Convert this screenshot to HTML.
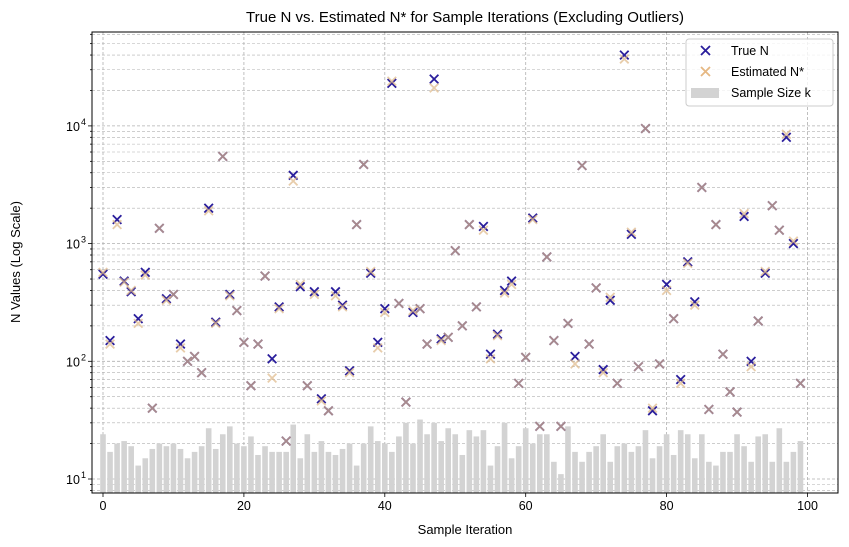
<!DOCTYPE html>
<html><head><meta charset="utf-8"><style>
body{margin:0;background:#fff;}
svg{display:block;font-family:"Liberation Sans","DejaVu Sans",sans-serif;}
</style></head><body>
<svg id="chart" width="849" height="547" viewBox="0 0 849 547" xmlns="http://www.w3.org/2000/svg">
<rect width="849" height="547" fill="#fff"/>
<text x="465" y="22" font-size="15" text-anchor="middle" fill="#000">True N vs. Estimated N* for Sample Iterations (Excluding Outliers)</text>
<g id="grid"></g>
<g id="bars"></g>
<g id="pts"></g>
<rect x="92" y="32" width="746" height="461" fill="none" stroke="#000" stroke-width="1"/>
<g id="axes"></g>
<text x="465" y="534" font-size="13" text-anchor="middle">Sample Iteration</text>
<text transform="translate(20,262) rotate(-90)" font-size="13" text-anchor="middle">N Values (Log Scale)</text>
<g>
<rect x="686" y="39" width="147" height="67" rx="3" fill="#fff" fill-opacity="0.8" stroke="#ccc"/>
<g><path d="M701,46 l9,9 M710,46 l-9,9" stroke="#2a1e9c" stroke-width="1.8"/><text x="731" y="55" font-size="12.5">True N</text></g>
<g><path d="M701,67 l9,9 M710,67 l-9,9" stroke="#e6b883" stroke-width="1.8"/><text x="731" y="76" font-size="12.5">Estimated N*</text></g>
<g><rect x="691" y="88" width="28" height="10" fill="#d3d3d3"/><text x="731" y="97" font-size="12.5">Sample Size k</text></g>
</g>
</svg>
<script>
const trueN=[550,150,1600,480,390,230,570,40,1350,340,370,140,100,110,80,2000,215,5500,370,270,145,62,140,530,105,290,21,3800,430,62,390,48,38,390,300,83,1450,4700,560,145,280,23000,310,45,260,280,140,25000,155,160,870,200,1450,290,1400,115,170,400,480,65,108,1650,28,770,150,28,210,110,4600,140,420,85,330,65,40000,1200,90,9500,38,95,450,230,70,700,320,3000,39,1450,115,55,37,1700,100,220,560,2100,1300,8000,1000,65];
const estN=[570,140,1450,470,400,210,540,40,1350,330,370,130,100,110,80,1900,210,5500,360,270,145,62,140,530,72,280,21,3400,450,62,370,46,38,360,290,80,1450,4700,580,130,260,24000,310,45,270,280,140,21000,150,160,870,200,1450,290,1300,105,165,380,450,65,108,1600,28,770,150,28,210,95,4600,140,420,80,350,65,37000,1250,90,9500,40,95,400,230,65,680,300,3000,39,1450,115,55,37,1800,90,220,580,2100,1300,8500,1050,65];
const sampleK=[24,17,20,21,19,13,15,18,20,19,20,18,15,17,19,27,18,24,28,20,19,23,16,19,17,17,17,29,15,24,17,21,17,16,18,20,13,20,28,21,20,17,23,30,20,32,24,30,21,27,24,16,26,23,26,13,19,30,15,19,27,20,24,24,14,11,28,17,14,17,19,24,14,19,20,17,19,26,15,19,24,16,26,24,15,24,14,13,17,17,24,19,14,23,24,14,27,14,17,21];
const xTicks=[0,20,40,60,80,100];
const yExps=[1,2,3,4];
const NS="http://www.w3.org/2000/svg";
const X0=92,X1=838,Y0=32,Y1=493;
const xs=v=>103+(v/100)*(807.5-103);
const ys=v=>479-(Math.log10(v)-1)*117.7;
function mk(tag,attrs,parent){const e=document.createElementNS(NS,tag);for(const k in attrs)e.setAttribute(k,attrs[k]);parent.appendChild(e);return e;}
const grid=document.getElementById('grid'),bars=document.getElementById('bars'),pts=document.getElementById('pts'),axes=document.getElementById('axes');
for(let e=0;e<=4;e++){for(let m=1;m<=9;m++){const v=m*Math.pow(10,e);const y=ys(v);if(y<Y0||y>Y1)continue;
const l=mk('line',{x1:X0,x2:X1,y1:y,y2:y,stroke:'#b0b0b0','stroke-width':m===1?0.8:0.6,'stroke-dasharray':'3,2'},grid);


const t=mk('line',{x1:X0,x2:X0-(m===1?4:2),y1:y,y2:y,stroke:'#000','stroke-width':0.8},axes);

}}
xTicks.forEach(v=>{const x=xs(v);
const l=mk('line',{x1:x,x2:x,y1:Y0,y2:Y1,stroke:'#b0b0b0','stroke-width':0.8,'stroke-dasharray':'3,2'},grid);


const t=mk('line',{x1:x,x2:x,y1:Y1,y2:Y1+4,stroke:'#000','stroke-width':0.8},axes);


const tx=mk('text',{x:x,y:Y1+17,'font-size':12.5,'text-anchor':'middle'},axes);tx.textContent=v;

});
yExps.forEach(e=>{const y=ys(Math.pow(10,e));
const tx=mk('text',{x:73,y:y+5,'font-size':12.5,'text-anchor':'middle'},axes);tx.textContent='10';


const sp=mk('text',{x:81,y:y-1,'font-size':9},axes);sp.textContent=e;

});
sampleK.forEach((k,i)=>{const x=xs(i);const y=ys(k);
const r=mk('rect',{x:x-2.8,y:y,width:5.6,height:Y1-y,fill:'#d3d3d3'},bars);

});
function cross(v,i,col,name,op){const x=xs(i),y=ys(v),s=4.3;
const p=mk('path',{d:`M${x-s},${y-s}L${x+s},${y+s}M${x+s},${y-s}L${x-s},${y+s}`,stroke:col,'stroke-width':1.8,'stroke-opacity':op},pts);

}
trueN.forEach((v,i)=>cross(v,i,'#2a1e9c','true-n-point',1));
estN.forEach((v,i)=>cross(v,i,'#deb887','estimated-n-point',0.7));
</script>
</body></html>
